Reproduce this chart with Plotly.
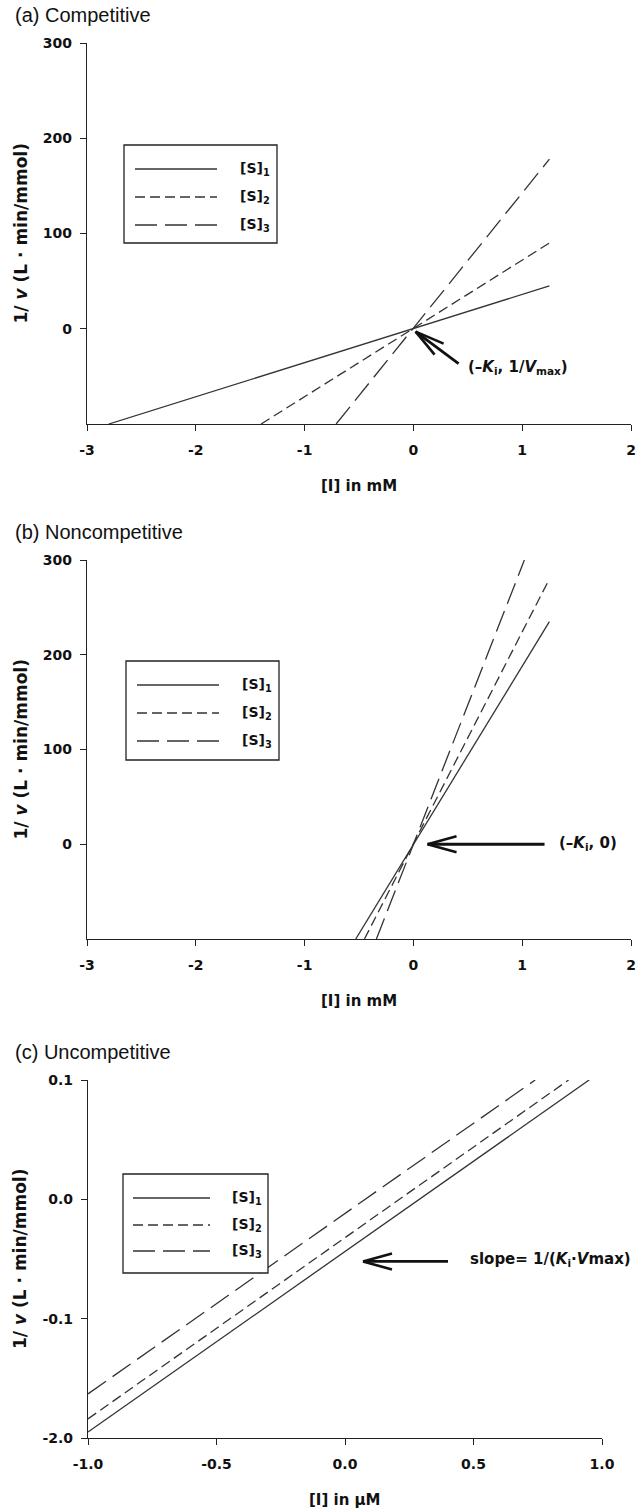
import plotly.graph_objects as go

W, H = 637, 1509

# ---------------- data ----------------
series_names = ["[S]<sub>1</sub>", "[S]<sub>2</sub>", "[S]<sub>3</sub>"]
series_dash = ["solid", "10px,5px", "22px,8px"]

comp_x = [[-2.8, 1.25], [-1.4, 1.25], [-0.71, 1.25]]
comp_y = [[-100, 45], [-100, 90], [-100, 178]]

noncomp_x = [[-0.53, 1.25], [-0.45, 1.25], [-0.34, 1.02]]
noncomp_y = [[-100, 235], [-100, 280], [-100, 300]]

uncomp_x = [[-1.0, 0.95], [-1.0, 0.87], [-1.0, 0.74]]
uncomp_y = [[-0.195, 0.1], [-0.184, 0.1], [-0.163, 0.1]]

mm_ticks = [-3, -2, -1, 0, 1, 2]
mm_ticktext = ["-3", "-2", "-1", "0", "1", "2"]
v_ticks = [0, 100, 200, 300]
v_ticktext = ["0", "100", "200", "300"]
um_ticks = [-1.0, -0.5, 0.0, 0.5, 1.0]
um_ticktext = ["-1.0", "-0.5", "0.0", "0.5", "1.0"]
uv_ticks = [-0.2, -0.1, 0.0, 0.1]
uv_ticktext = ["-2.0", "-0.1", "0.0", "0.1"]

panel_titles = ["(a) Competitive", "(b) Noncompetitive", "(c) Uncompetitive"]
ytitle = "1/ <i>v</i> (L · min/mmol)"
xtitles = ["[I] in mM", "[I] in mM", "[I] in µM"]

# ---------------- layout helpers ----------------
def px(x):
    return x / W

def py(y):
    return 1 - y / H

LINE = "#222222"
FONT = "DejaVu Sans"

# panel pixel boxes: (left, right, top, bottom)
boxes = [(87, 631, 43, 424), (87, 631, 560, 939), (88, 602, 1080, 1438)]

fig = go.Figure()

datasets = [(comp_x, comp_y), (noncomp_x, noncomp_y), (uncomp_x, uncomp_y)]
for p, (xs, ys) in enumerate(datasets):
    xa = "x" if p == 0 else f"x{p+1}"
    ya = "y" if p == 0 else f"y{p+1}"
    for i in range(3):
        fig.add_trace(go.Scatter(
            x=xs[i], y=ys[i], mode="lines", xaxis=xa, yaxis=ya,
            line=dict(color="#333333", width=1.3, dash=series_dash[i]),
            showlegend=False, hoverinfo="skip"))

tickfont = dict(family=FONT, size=14, color="#111111", weight="bold")

def axis_common():
    return dict(showline=True, linecolor=LINE, linewidth=1.4, ticks="outside",
                ticklen=6, tickwidth=1.3, tickcolor=LINE, showgrid=False,
                zeroline=False, tickfont=tickfont, fixedrange=True,
                automargin=False)

layout = dict(width=W, height=H, margin=dict(l=0, r=0, t=0, b=0, pad=0),
              paper_bgcolor="white", plot_bgcolor="white", showlegend=False)

xranges = [[-3, 2], [-3, 2], [-1, 1]]
yranges = [[-100, 300], [-100, 300], [-0.2, 0.1]]
xtv = [(mm_ticks, mm_ticktext), (mm_ticks, mm_ticktext), (um_ticks, um_ticktext)]
ytv = [(v_ticks, v_ticktext), (v_ticks, v_ticktext), (uv_ticks, uv_ticktext)]

for p in range(3):
    l, r, t, b = boxes[p]
    xk = "xaxis" if p == 0 else f"xaxis{p+1}"
    yk = "yaxis" if p == 0 else f"yaxis{p+1}"
    yname = "y" if p == 0 else f"y{p+1}"
    xname = "x" if p == 0 else f"x{p+1}"
    xa = axis_common()
    xa.update(domain=[px(l), px(r)], range=xranges[p], anchor=yname,
              tickmode="array", tickvals=xtv[p][0], ticktext=xtv[p][1],
              ticklabelstandoff=7)
    ya = axis_common()
    ya.update(domain=[py(b), py(t)], range=yranges[p], anchor=xname,
              tickmode="array", tickvals=ytv[p][0], ticktext=ytv[p][1],
              ticklabelstandoff=5)
    layout[xk] = xa
    layout[yk] = ya

fig.update_layout(**layout)

annotations = []
shapes = []

title_y = [15, 532, 1052]
for p in range(3):
    l, r, t, b = boxes[p]
    annotations.append(dict(text=panel_titles[p], xref="paper", yref="paper",
                            x=px(13), y=py(title_y[p]), xanchor="left", yanchor="middle",
                            showarrow=False,
                            font=dict(family="Liberation Sans", size=20, color="#111111")))
    annotations.append(dict(text=ytitle, xref="paper", yref="paper",
                            x=px(20), y=py((t + b) / 2), xanchor="center", yanchor="middle",
                            textangle=-90, showarrow=False,
                            font=dict(family=FONT, size=17, color="#111111", weight="bold")))
    annotations.append(dict(text=xtitles[p], xref="paper", yref="paper",
                            x=px((l + r) / 2 if p < 2 else 345), y=py(b + 62),
                            xanchor="center", yanchor="middle", showarrow=False,
                            font=dict(family=FONT, size=15, color="#111111", weight="bold")))

# legends (drawn boxes)
legend_boxes = [(124, 277, 145, 243, 135, 217, [169, 197, 225], 238),
                (126, 279, 661, 760, 137, 219, [685, 713, 741], 240),
                (123, 268, 1174, 1273, 133, 210, [1198, 1225, 1251], 230)]
for (l, r, t, b, s0, s1, rows, tx) in legend_boxes:
    shapes.append(dict(type="rect", xref="paper", yref="paper",
                       x0=px(l), x1=px(r), y0=py(b), y1=py(t),
                       line=dict(color=LINE, width=1.3), fillcolor="white", layer="above"))
    for i, ry in enumerate(rows):
        shapes.append(dict(type="line", xref="paper", yref="paper",
                           x0=px(s0), x1=px(s1), y0=py(ry), y1=py(ry),
                           line=dict(color="#333333", width=1.3, dash=series_dash[i]),
                           layer="above"))
        annotations.append(dict(text=series_names[i], xref="paper", yref="paper",
                                x=px(tx), y=py(ry), xanchor="left", yanchor="middle",
                                showarrow=False,
                                font=dict(family=FONT, size=14, color="#111111", weight="bold")))

# arrows drawn as pixel-sized line shapes anchored at the head point
# (xref, yref, head x, head y, shaft offset (dx right, dy down), arm offsets)
arrows = [("x", "y", 0.02, -3, (43, 32), [(28, 12), (19, 23)]),
          ("x2", "y2", 0.13, 0, (117, 0), [(29, -8), (29, 8)]),
          ("x3", "y3", 0.07, -0.052, (85, 0), [(29, -8), (29, 8)])]
for xr, yr, hx, hy, shaft, arms in arrows:
    for (dx, dy), w in [(shaft, 2.8)] + [(a, 2.6) for a in arms]:
        shapes.append(dict(type="line", xref=xr, yref=yr,
                           xsizemode="pixel", ysizemode="pixel",
                           xanchor=hx, yanchor=hy,
                           x0=0, y0=0, x1=dx, y1=-dy,
                           line=dict(color="#111111", width=w), layer="above"))

ann_font = dict(family=FONT, size=15, color="#111111", weight="bold")
annotations.append(dict(text="(–<i>K</i><sub>i</sub>, 1/<i>V</i><sub>max</sub>)",
                        xref="paper", yref="paper", x=px(466), y=py(367),
                        xanchor="left", yanchor="middle", showarrow=False, font=ann_font))
annotations.append(dict(text="(–<i>K</i><sub>i</sub>, 0)",
                        xref="paper", yref="paper", x=px(557), y=py(843),
                        xanchor="left", yanchor="middle", showarrow=False, font=ann_font))
annotations.append(dict(text="slope= 1/(<i>K</i><sub>i</sub>·<i>V</i>max)",
                        xref="paper", yref="paper", x=px(633), y=py(1259),
                        xanchor="right", yanchor="middle", showarrow=False, font=ann_font))

fig.update_layout(annotations=annotations, shapes=shapes)
fig.write_html("out.html")
